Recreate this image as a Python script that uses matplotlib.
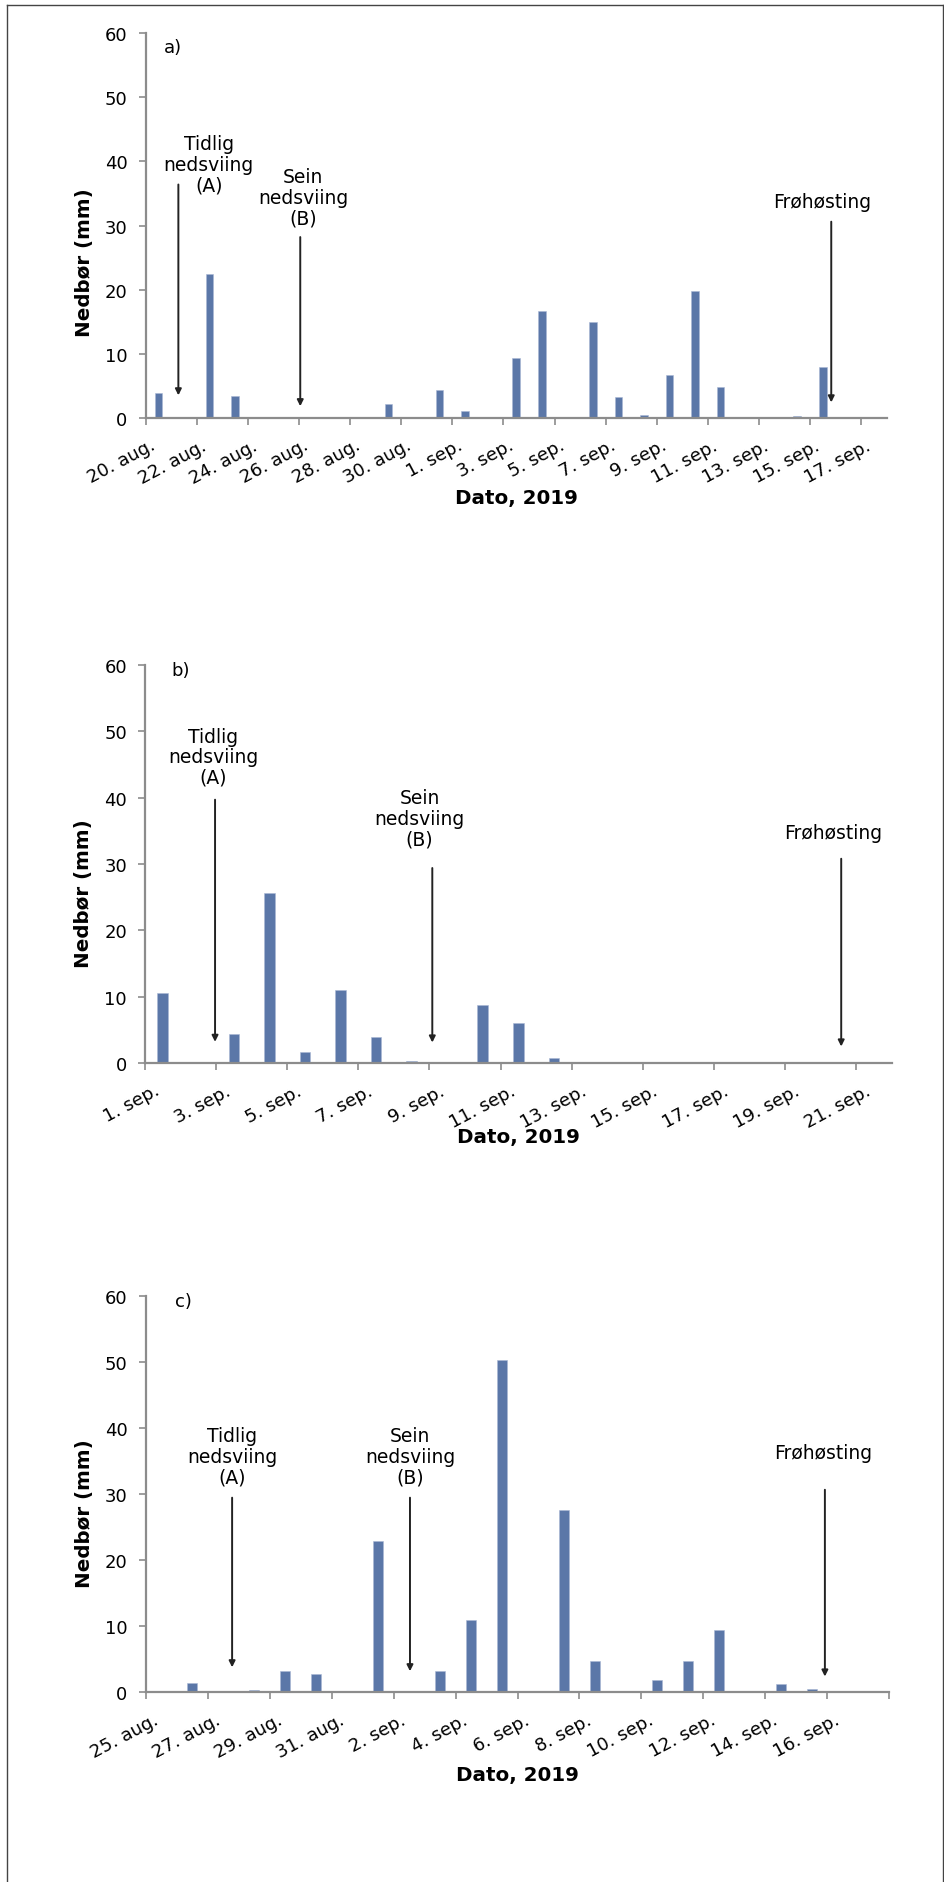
import matplotlib.pyplot as plt
from matplotlib.lines import Line2D

# categories (one bar per day)
days_a = ['20. aug.', '21. aug.', '22. aug.', '23. aug.', '24. aug.', '25. aug.', '26. aug.',
          '27. aug.', '28. aug.', '29. aug.', '30. aug.', '31. aug.', '1. sep.', '2. sep.',
          '3. sep.', '4. sep.', '5. sep.', '6. sep.', '7. sep.', '8. sep.', '9. sep.',
          '10. sep.', '11. sep.', '12. sep.', '13. sep.', '14. sep.', '15. sep.', '16. sep.',
          '17. sep.']
rain_a = [3.9, 0, 22.4, 3.4, 0, 0, 0, 0, 0, 2.1, 0, 4.4, 1.0, 0, 9.4, 16.7, 0, 14.9, 3.2,
          0.5, 6.6, 19.8, 4.8, 0, 0, 0.3, 7.9, 0, 0]

days_b = ['1. sep.', '2. sep.', '3. sep.', '4. sep.', '5. sep.', '6. sep.', '7. sep.',
          '8. sep.', '9. sep.', '10. sep.', '11. sep.', '12. sep.', '13. sep.', '14. sep.',
          '15. sep.', '16. sep.', '17. sep.', '18. sep.', '19. sep.', '20. sep.', '21. sep.']
rain_b = [10.6, 0, 4.4, 25.7, 1.6, 11.0, 4.0, 0.3, 0.2, 8.7, 6.1, 0.75, 0, 0, 0, 0, 0, 0, 0, 0, 0]

days_c = ['25. aug.', '26. aug.', '27. aug.', '28. aug.', '29. aug.', '30. aug.', '31. aug.',
          '1. sep.', '2. sep.', '3. sep.', '4. sep.', '5. sep.', '6. sep.', '7. sep.',
          '8. sep.', '9. sep.', '10. sep.', '11. sep.', '12. sep.', '13. sep.', '14. sep.',
          '15. sep.', '16. sep.', '17. sep.']
rain_c = [0, 1.4, 0, 0.3, 3.3, 2.8, 0, 22.9, 0, 3.2, 11.0, 50.4, 0, 27.6, 4.7, 0, 1.9, 4.8,
          9.4, 0, 1.2, 0.5, 0, 0]

# events: (label, text x, text y, arrow x, arrow top, arrow bottom)
events_a = [('Tidlig\nnedsviing\n(A)', 1.97, 39.6, 0.78, 36.4, 3.5),
            ('Sein\nnedsviing\n(B)', 5.66, 34.4, 5.55, 28.2, 1.8),
            ('Frøhøsting', 25.98, 33.7, 26.33, 30.6, 2.4)]
events_b = [('Tidlig\nnedsviing\n(A)', 1.42, 46.2, 1.47, 39.7, 3.2),
            ('Sein\nnedsviing\n(B)', 7.22, 36.9, 7.58, 29.4, 3.1),
            ('Frøhøsting', 18.86, 34.8, 19.08, 30.8, 2.5)]
events_c = [('Tidlig\nnedsviing\n(A)', 2.3, 35.8, 2.29, 29.5, 3.8),
            ('Sein\nnedsviing\n(B)', 8.03, 35.8, 8.03, 29.5, 3.2),
            ('Frøhøsting', 21.37, 36.3, 21.42, 30.7, 2.4)]

panels = [
    ('a)', days_a, rain_a, events_a, (0.57, 57.8), [0.1543, 0.7776, 0.7850, 0.2042], 0.405, -0.182),
    ('b)', days_b, rain_b, events_b, (0.51, 59.3), [0.1536, 0.4349, 0.7910, 0.2114], 0.428, -0.160),
    ('c)', days_c, rain_c, events_c, (0.71, 59.3), [0.1543, 0.1007, 0.7878, 0.2103], 0.454, -0.183),
]

bar_color = '#5B77A8'
axis_color = '#8C8C8C'

fig = plt.figure(figsize=(9.44, 18.83), dpi=100)

for letter, days, rain, events, letter_pos, rect, ylab_y, xlab_y in panels:
    ax = fig.add_axes(rect)
    n = len(days)
    ax.bar(range(n), rain, width=0.3, color=bar_color, edgecolor='#A9B8D4', linewidth=0.4)
    ax.set_xlim(-0.5, n - 0.5)
    ax.set_ylim(0, 60)
    ax.set_yticks(range(0, 61, 10))

    ax.set_xticks(range(0, n, 2))
    ax.set_xticklabels(days[::2], rotation=28, ha='right', fontsize=13)
    ax.set_xticks([i - 0.5 for i in range(0, n + 1, 2)], minor=True)
    ax.tick_params(axis='x', which='major', length=0, pad=13)
    ax.tick_params(axis='x', which='minor', length=5, width=1.2, color=axis_color, direction='out')
    ax.tick_params(axis='y', length=5, width=1.2, color=axis_color, labelsize=13, pad=8)

    for s in ['top', 'right']:
        ax.spines[s].set_visible(False)
    for s in ['left', 'bottom']:
        ax.spines[s].set_color(axis_color)
        ax.spines[s].set_linewidth(1.6)

    ax.set_ylabel('Nedbør (mm)', fontsize=14.3, fontweight='bold')
    ax.yaxis.set_label_coords(-0.070, ylab_y)
    ax.set_xlabel('Dato, 2019', fontsize=14.3, fontweight='bold')
    ax.xaxis.set_label_coords(0.5, xlab_y)

    ax.text(letter_pos[0], letter_pos[1], letter, fontsize=13, ha='center', va='center')

    for label, tx, ty, axx, ytop, ybot in events:
        ax.text(tx, ty, label, fontsize=13.5, ha='center', va='center', linespacing=1.1)
        ax.annotate('', xy=(axx, ybot), xytext=(axx, ytop),
                    arrowprops=dict(arrowstyle='-|>', color='#222222', lw=1.4,
                                    mutation_scale=9, shrinkA=0, shrinkB=0))

# page border
fig.add_artist(Line2D([6.5 / 944, 6.5 / 944], [0, 1 - 5.5 / 1883], color='#444444', lw=1.0))
fig.add_artist(Line2D([6.5 / 944, 942.5 / 944], [1 - 5.5 / 1883, 1 - 5.5 / 1883], color='#444444', lw=1.0))
fig.add_artist(Line2D([942.5 / 944, 942.5 / 944], [0, 1 - 5.5 / 1883], color='#444444', lw=1.0))

fig.savefig('out.png', dpi=100)
